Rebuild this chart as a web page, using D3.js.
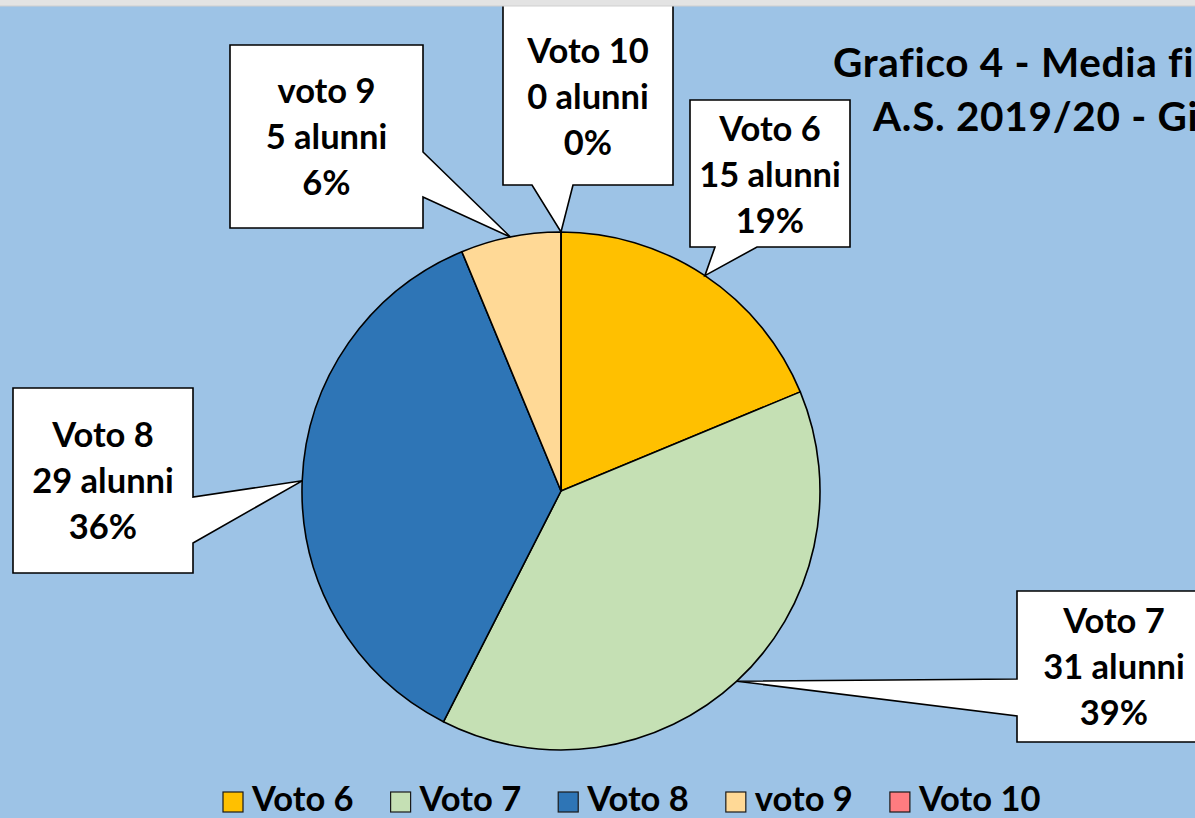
<!DOCTYPE html>
<html>
<head>
<meta charset="utf-8">
<script src="https://cdn.jsdelivr.net/npm/d3@7"></script>
<style>
  html, body { margin: 0; padding: 0; background: #9DC3E6; overflow: hidden; }
  svg { display: block; }
  text { font-family: Lato, "Open Sans", sans-serif; font-weight: 700; fill: #000; font-variant-ligatures: none; }
</style>
</head>
<body>
<svg id="chart" width="1195" height="818"></svg>
<script>
// ---- data ----
const categories = ["Voto 6", "Voto 7", "Voto 8", "voto 9", "Voto 10"];
const values = [15, 31, 29, 5, 0];
const unitLabel = "alunni";
const titleLines = ["Grafico 4 - Media fi", "A.S. 2019/20 - Gi"];

// ---- styles / layout ----
const colors = ["#FFC000", "#C5E0B4", "#2E75B6", "#FFD996", "#FF7C80"];
const W = 1195, H = 818;
const cx = 561, cy = 491, R = 259;

// callout boxes (layout only): box rect, pointer side & base, text centre y
const callouts = [
  { box: [690, 100, 160, 147], side: "bottom", base: [715, 757], ty: 175 },
  { box: [1017, 591, 194, 151], side: "left", base: [679, 716], ty: 667 },
  { box: [13, 388, 180, 185], side: "right", base: [497, 543], ty: 481 },
  { box: [230, 45, 193, 183], side: "right", base: [152, 197], ty: 137 },
  { box: [503, -20, 170, 205], side: "bottom", base: [532, 573], ty: 97 }
];

const svg = d3.select("#chart");
svg.append("rect").attr("width", W).attr("height", H).attr("fill", "#9DC3E6");

const total = d3.sum(values);
const pie = d3.pie().sort(null).value(d => d)(values);
const arc = d3.arc().innerRadius(0).outerRadius(R);
const rimArc = d3.arc().innerRadius(R).outerRadius(R);

const g = svg.append("g").attr("transform", `translate(${cx},${cy})`);
g.selectAll("path.slice")
  .data(pie)
  .join("path")
  .attr("class", "slice")
  .attr("d", arc)
  .attr("fill", (d, i) => colors[i])
  .attr("stroke", "#000")
  .attr("stroke-width", 1.6)
  .attr("stroke-linejoin", "round");

// callouts
function calloutPath(c, tip) {
  const [x, y, w, h] = c.box;
  const x2 = x + w, y2 = y + h;
  const [a, b] = c.base;
  const p = d3.path();
  p.moveTo(x, y);
  p.lineTo(x2, y);
  if (c.side === "right") { p.lineTo(x2, a); p.lineTo(tip[0], tip[1]); p.lineTo(x2, b); }
  p.lineTo(x2, y2);
  if (c.side === "bottom") { p.lineTo(b, y2); p.lineTo(tip[0], tip[1]); p.lineTo(a, y2); }
  p.lineTo(x, y2);
  if (c.side === "left") { p.lineTo(x, b); p.lineTo(tip[0], tip[1]); p.lineTo(x, a); }
  p.closePath();
  return p.toString();
}

const lab = svg.append("g");
pie.forEach((d, i) => {
  const c = callouts[i];
  const t = rimArc.centroid(d);
  const tip = [t[0] + cx, t[1] + cy];
  lab.append("path")
    .attr("d", calloutPath(c, tip))
    .attr("fill", "#fff")
    .attr("stroke", "#000")
    .attr("stroke-width", 1.6)
    .attr("stroke-linejoin", "miter");
  const tx = c.box[0] + c.box[2] / 2;
  const pct = Math.round(values[i] / total * 100) + "%";
  const lines = [categories[i], `${values[i]} ${unitLabel}`, pct];
  lines.forEach((s, k) => {
    lab.append("text")
      .attr("x", tx)
      .attr("y", c.ty + 12 + (k - 1) * 46)
      .attr("text-anchor", "middle")
      .attr("font-size", 34.5)
      .text(s);
  });
});

// title
const title = svg.append("g");
title.append("text").attr("x", 833).attr("y", 77).attr("font-size", 40.5).attr("letter-spacing", 0.7).text(titleLines[0]);
title.append("text").attr("x", 873).attr("y", 131).attr("font-size", 40.5).attr("letter-spacing", 0.7).text(titleLines[1]);

// legend
const leg = svg.append("g");
let lx = 223;
categories.forEach((name, i) => {
  leg.append("rect")
    .attr("x", lx).attr("y", 792).attr("width", 20).attr("height", 20)
    .attr("fill", colors[i]).attr("stroke", "#1a1a1a").attr("stroke-width", 1.2);
  const t = leg.append("text")
    .attr("x", lx + 29).attr("y", 811)
    .attr("font-size", 34.5)
    .text(name);
  lx += 29 + t.node().getComputedTextLength() + 37;
});

// top strip
svg.append("rect").attr("x", 0).attr("y", 0).attr("width", W).attr("height", 6).attr("fill", "#e3e3e3");
svg.append("line").attr("x1", 0).attr("x2", W).attr("y1", 6).attr("y2", 6).attr("stroke", "#cfcfcf").attr("stroke-width", 1);
</script>
</body>
</html>
